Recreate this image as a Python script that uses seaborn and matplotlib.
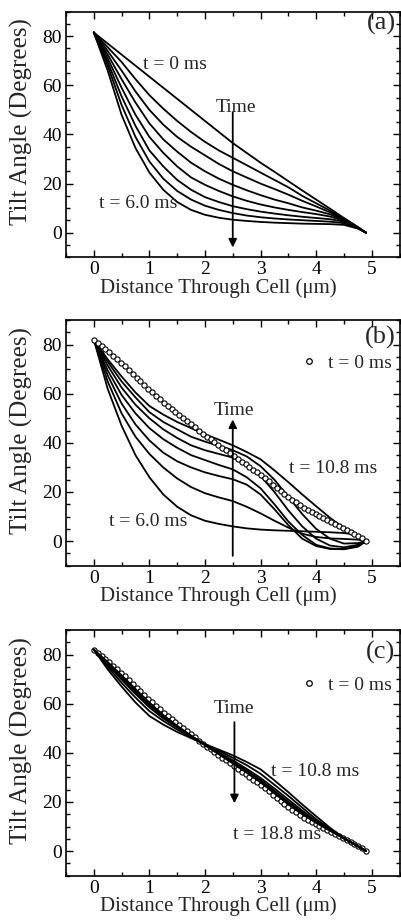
import numpy as np
import pandas as pd
import matplotlib
matplotlib.use("Agg")
import matplotlib.pyplot as plt
import seaborn as sns
from matplotlib.lines import Line2D
from matplotlib.ticker import MultipleLocator

# ------------------------------------------------------------
# data
# ------------------------------------------------------------
# common grid for the simulated profiles (um)
X = [0, 0.25, 0.5, 0.75, 1.0, 1.25, 1.5, 1.75, 2.0, 2.25, 2.5,
     2.75, 3.0, 3.25, 3.5, 3.75, 4.0, 4.25, 4.5, 4.75, 4.9]

# (a) relaxation, t = 0 ... 6.0 ms
A_T0 = [81.5, 77, 72.5, 68, 63.5, 59, 54.5, 50, 45.5, 41, 36.5, 32.5, 28.5, 24.8, 21, 17.2, 13.5, 9.8, 6, 2.3, 0]
A_T1 = [81.5, 75.5, 69.5, 62.5, 56, 50.5, 45.5, 41, 37, 33.5, 30.5, 27.5, 24.5, 21.5, 18.5, 15, 12, 9, 5.8, 2.3, 0]
A_T2 = [81.5, 74, 66, 57.5, 50, 44, 39, 35, 31.5, 28, 25, 22.5, 20, 17.8, 15.5, 13, 10.7, 8.3, 5.5, 2.2, 0]
A_T3 = [81.5, 72.5, 62.5, 53, 44.5, 38, 33, 28.5, 25, 22, 19.5, 17.3, 15.3, 13.5, 12, 10.3, 9, 7.5, 5.2, 2.1, 0]
A_T4 = [81.5, 71, 59, 48, 39, 32.5, 27, 22.5, 19.5, 17, 14.8, 13, 11.5, 10.3, 9.3, 8.4, 7.6, 6.6, 4.9, 2, 0]
A_T5 = [81.5, 69.5, 55.5, 43.5, 33.5, 27, 21.5, 17.5, 14.5, 12.5, 10.8, 9.6, 8.6, 7.8, 7.1, 6.5, 6, 5.5, 4.5, 1.9, 0]
A_T6 = [81.5, 68, 52, 39, 29, 22, 17, 13.5, 11, 9.3, 8, 7, 6.3, 5.8, 5.4, 5.1, 4.8, 4.5, 3.9, 1.8, 0]
A_T7 = [81.5, 66, 48, 34.5, 24.5, 17.5, 12.5, 9.3, 7.3, 6.1, 5.3, 4.8, 4.4, 4.1, 3.9, 3.7, 3.6, 3.5, 3.2, 1.7, 0]

# (b) recovery, t = 6.0 ... 10.8 ms
B_T1 = [82, 62, 47, 35, 26, 19, 14, 10.5, 8.3, 7, 6, 5.2, 4.7, 4.4, 4.2, 4, 3.8, 3.6, 3.3, 2.5, 0]
B_T2 = [82, 65, 52, 42.5, 35.5, 30, 25.5, 22, 19.5, 17.8, 16.3, 14, 11.3, 8.3, 5.5, 3, 1.7, 1.1, 0.9, 0.6, 0]
B_T3 = [82, 67.5, 56, 47.5, 41, 36, 32.5, 30, 28, 26.5, 25.2, 23, 19, 13, 6.5, 1, -2, -3.2, -3.3, -2.3, 0]
B_T4 = [82, 69.5, 59.5, 52, 46, 41.5, 38, 35, 33, 31, 29.2, 26, 21.5, 15, 8, 2.5, -1.5, -3, -3.2, -2, 0]
B_T5 = [82, 71.5, 62.5, 55.5, 50, 45.5, 42, 39, 37, 35.5, 34, 31, 26.5, 20, 12.5, 6, 1, -1.8, -2.5, -1.5, 0]
B_T6 = [82, 73, 65, 58.5, 52.5, 48.5, 45.5, 42.5, 40.5, 38.8, 37, 34.5, 30.5, 25, 18, 11, 5, 1, -1, -0.8, 0]
B_T7 = [82, 74, 67, 60.5, 55, 51.5, 48.5, 46, 43.5, 41.3, 39, 36.3, 33.3, 28.8, 24, 19, 14.2, 9.5, 5.3, 1.9, 0]

# (c) settling, t = 10.8 ... 18.8 ms
C_T1 = B_T7
C_T2 = [82, 75, 68.5, 62.5, 57, 53, 49.5, 46.5, 43.5, 40.8, 38, 35, 31.5, 27, 22.5, 17.7, 13, 9, 5.2, 1.9, 0]
C_T3 = [82, 75.8, 69.8, 64, 58.5, 54, 50.3, 46.8, 43.4, 40.2, 37, 33.5, 29.8, 25.5, 21, 16.5, 12.3, 8.7, 5.2, 2, 0]
C_T4 = [82, 76.3, 70.6, 64.8, 59.3, 54.6, 50.6, 46.9, 43.3, 39.9, 36.4, 32.8, 29, 24.6, 20.1, 15.8, 12, 8.5, 5.2, 2.1, 0]
C_T5 = [82, 76.7, 71.2, 65.5, 60, 55, 50.8, 46.9, 43.2, 39.6, 36, 32.3, 28.4, 24, 19.5, 15.3, 11.7, 8.4, 5.2, 2.1, 0]
C_T6 = [82, 77, 71.6, 66, 60.5, 55.4, 51, 47, 43.1, 39.4, 35.7, 31.9, 28, 23.5, 19, 15, 11.5, 8.3, 5.2, 2.2, 0]

# open circles: initial profile t = 0 ms in (b) and (c)
CIRC_X = [0.00, 0.07, 0.14, 0.21, 0.28, 0.35, 0.42, 0.49, 0.56, 0.63, 0.70, 0.77, 0.84, 0.91,
          0.98, 1.05, 1.12, 1.19, 1.26, 1.33, 1.40, 1.47, 1.54, 1.61, 1.68, 1.75, 1.82, 1.89,
          1.96, 2.03, 2.10, 2.17, 2.24, 2.31, 2.38, 2.45, 2.52, 2.59, 2.66, 2.73, 2.80, 2.87,
          2.94, 3.01, 3.08, 3.15, 3.22, 3.29, 3.36, 3.43, 3.50, 3.57, 3.64, 3.71, 3.78, 3.85,
          3.92, 3.99, 4.06, 4.13, 4.20, 4.27, 4.34, 4.41, 4.48, 4.55, 4.62, 4.69, 4.76, 4.83, 4.90]
CIRC_Y = [82.0, 80.7, 79.5, 78.2, 76.9, 75.5, 74.1, 72.7, 71.2, 69.6, 68.1, 66.5, 65.0, 63.5,
          61.9, 60.5, 59.1, 57.7, 56.3, 55.0, 53.8, 52.5, 51.3, 50.0, 48.8, 47.5, 46.3, 45.0,
          43.8, 42.5, 41.4, 40.3, 39.2, 38.0, 36.9, 35.8, 34.7, 33.6, 32.4, 31.3, 30.2, 29.1,
          28.0, 26.8, 25.6, 24.3, 23.0, 21.8, 20.5, 19.3, 18.0, 16.9, 15.8, 14.6, 13.6, 12.7,
          11.8, 10.9, 10.2, 9.4, 8.6, 7.8, 7.0, 6.3, 5.5, 4.7, 3.9, 3.0, 2.1, 1.1, 0.0]

PANEL_A = [A_T0, A_T1, A_T2, A_T3, A_T4, A_T5, A_T6, A_T7]
PANEL_B = [B_T1, B_T2, B_T3, B_T4, B_T5, B_T6, B_T7]
PANEL_C = [C_T1, C_T2, C_T3, C_T4, C_T5, C_T6]

# ------------------------------------------------------------
# style
# ------------------------------------------------------------
sns.set_theme(style="ticks")
plt.rcParams["font.family"] = ["Liberation Serif", "DejaVu Serif"]
FS = 14


def _long(curves):
    rows = []
    for k, ys in enumerate(curves):
        for x, y in zip(X, ys):
            rows.append((k, x, y))
    return pd.DataFrame(rows, columns=["curve", "x", "angle"])


def _frame(ax):
    ax.set_xlim(-0.5, 5.5)
    ax.set_ylim(-10, 90)
    ax.xaxis.set_major_locator(MultipleLocator(1))
    ax.xaxis.set_minor_locator(MultipleLocator(0.5))
    ax.yaxis.set_major_locator(MultipleLocator(20))
    ax.yaxis.set_minor_locator(MultipleLocator(5))
    ax.tick_params(which="both", direction="in", top=True, right=True,
                   width=1.0, colors="black", labelsize=FS, pad=3)
    ax.tick_params(which="major", length=5)
    ax.tick_params(which="minor", length=3)
    for s in ax.spines.values():
        s.set_visible(True)
        s.set_linewidth(1.2)
        s.set_color("black")
    ax.set_xlabel("Distance Through Cell (μm)", fontsize=15)
    ax.set_ylabel("Tilt Angle (Degrees)", fontsize=18)
    ax.xaxis.set_label_coords(0.456, -0.085)
    ax.yaxis.set_label_coords(-0.1, 0.552)


def _curves(ax, curves, z=2):
    sns.lineplot(data=_long(curves), x="x", y="angle", units="curve",
                 estimator=None, color="black", lw=1.3, ax=ax, legend=False,
                 zorder=z)


def _circles(ax, leg_y, z):
    sns.scatterplot(x=CIRC_X, y=CIRC_Y, marker="o", s=14, facecolor="white",
                    edgecolor="black", linewidth=0.8, ax=ax, zorder=z)
    h = Line2D([], [], marker="o", ls="", mfc="white", mec="black", ms=4, mew=0.9)
    ax.legend([h], ["t = 0 ms"], loc="center right", bbox_to_anchor=(0.977, leg_y),
              frameon=False, fontsize=FS, borderpad=0, borderaxespad=0,
              handlelength=0.8, handletextpad=0.6)


def _arrow(ax, x, y0, y1):
    ax.annotate("", xy=(x, y1), xytext=(x, y0),
                arrowprops=dict(arrowstyle="-|>", color="black", lw=1.3,
                                mutation_scale=12, shrinkA=0, shrinkB=0))


fig = plt.figure(figsize=(4.01, 9.21), dpi=100)
W = 333.5 / 401
H = 245.7 / 921
L = 66 / 401
ax_a = fig.add_axes([L, 1 - 257.3 / 921, W, H])
ax_b = fig.add_axes([L, 1 - 565.7 / 921, W, H])
ax_c = fig.add_axes([L, 1 - 875.7 / 921, W, H])

# (a)
_curves(ax_a, PANEL_A)
_frame(ax_a)
_arrow(ax_a, 2.5, 49, -6)
ax_a.text(2.56, 51, "Time", ha="center", va="center", fontsize=FS)
ax_a.text(0.88, 68.5, "t = 0 ms", ha="left", va="center", fontsize=FS)
ax_a.text(0.1, 12, "t = 6.0 ms", ha="left", va="center", fontsize=FS)
ax_a.text(5.43, 85, "(a)", ha="right", va="center", fontsize=19)

# (b)
_curves(ax_b, PANEL_B)
_circles(ax_b, 0.824, z=3)
_frame(ax_b)
_arrow(ax_b, 2.5, -6, 49.5)
ax_b.text(2.53, 53.3, "Time", ha="center", va="center", fontsize=FS)
ax_b.text(3.52, 29.5, "t = 10.8 ms", ha="left", va="center", fontsize=FS)
ax_b.text(0.28, 8, "t = 6.0 ms", ha="left", va="center", fontsize=FS)
ax_b.text(5.43, 83, "(b)", ha="right", va="center", fontsize=19)

# (c)
_circles(ax_c, 0.777, z=1.5)
_curves(ax_c, PANEL_C, z=2)
_frame(ax_c)
_arrow(ax_c, 2.53, 52.5, 19.5)
ax_c.text(2.53, 58, "Time", ha="center", va="center", fontsize=FS)
ax_c.text(3.19, 32.5, "t = 10.8 ms", ha="left", va="center", fontsize=FS)
ax_c.text(2.5, 6.6, "t = 18.8 ms", ha="left", va="center", fontsize=FS)
ax_c.text(5.43, 81, "(c)", ha="right", va="center", fontsize=19)

fig.savefig("out.png", dpi=100)
